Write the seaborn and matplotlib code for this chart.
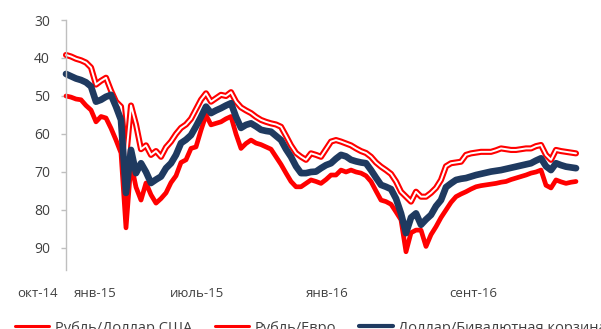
import numpy as np
import pandas as pd
import seaborn as sns
import matplotlib.pyplot as plt
import matplotlib.patheffects as pe

# Weekly observations, Oct 2014 - Sep 2016 (inverted scale: higher = weaker ruble)
usd_rub = [39.2, 39.6, 40.2, 40.6, 41.2, 42.5, 47.0, 46.0, 45.2, 48.6,
           51.5, 52.8, 66.5, 52.5, 57.5, 64.0, 63.0, 65.5, 64.5, 66.0,
           63.5, 62.0, 60.0, 58.4, 57.5, 56.0, 53.5, 51.0, 49.3, 51.5,
           50.6, 49.7, 50.0, 49.0, 51.5, 53.0, 53.8, 54.5, 55.5, 56.3,
           56.8, 57.2, 57.5, 58.1, 60.5, 63.0, 65.0, 66.0, 66.8, 65.1,
           65.5, 66.0, 64.0, 62.0, 61.6, 62.0, 62.5, 63.0, 63.8, 64.5,
           65.0, 66.0, 67.5, 68.6, 69.5, 70.5, 72.5, 75.2, 76.5, 77.8,
           75.2, 76.5, 76.5, 75.5, 74.2, 72.1, 68.5, 67.7, 67.5, 67.3,
           65.5, 65.1, 64.9, 64.7, 64.7, 64.7, 64.3, 63.8, 64.0, 64.2,
           64.2, 64.0, 63.8, 63.8, 63.2, 62.9, 65.5, 66.8, 64.2, 64.5,
           64.7, 64.9, 65.1]

eur_rub = [50.0, 50.3, 50.8, 51.0, 52.5, 53.7, 56.8, 55.4, 55.8, 58.5,
           61.6, 65.0, 84.7, 67.7, 74.0, 77.4, 72.9, 76.0, 78.2, 77.0,
           75.5, 72.8, 71.0, 67.5, 66.8, 63.8, 63.4, 59.0, 55.0, 57.6,
           57.2, 56.8, 56.0, 55.4, 60.0, 63.8, 62.5, 61.6, 62.4, 62.8,
           63.4, 64.0, 66.0, 68.0, 70.3, 72.5, 73.9, 73.9, 73.0, 72.1,
           72.5, 73.0, 72.0, 70.8, 70.8, 69.5, 70.0, 69.5, 70.0, 70.3,
           71.0, 72.5, 75.0, 77.4, 77.8, 78.5, 80.5, 82.6, 91.0, 86.0,
           85.3, 85.3, 89.6, 86.5, 84.4, 82.0, 80.0, 78.0, 76.5, 75.8,
           75.2, 74.5, 73.9, 73.6, 73.4, 73.2, 73.0, 72.7, 72.5, 72.0,
           71.6, 71.2, 70.8, 70.3, 70.0, 69.5, 73.5, 74.2, 72.1, 72.6,
           73.0, 72.7, 72.5]

basket = [44.2, 44.8, 45.4, 45.8, 46.4, 47.5, 51.5, 51.0, 50.2, 49.7,
          52.8, 56.3, 75.5, 64.2, 70.3, 67.7, 70.0, 72.9, 72.0, 71.2,
          69.0, 67.7, 65.5, 62.4, 61.5, 60.3, 58.0, 55.5, 52.8, 54.5,
          53.8, 53.2, 52.5, 51.9, 55.5, 58.4, 57.6, 57.2, 58.0, 58.9,
          59.2, 59.4, 60.5, 61.6, 64.0, 66.0, 68.5, 70.3, 70.3, 70.0,
          69.9, 69.0, 68.2, 67.7, 66.5, 65.5, 65.9, 66.8, 67.2, 67.5,
          67.7, 69.5, 71.5, 73.4, 73.9, 74.5, 77.0, 80.9, 86.1, 82.0,
          80.9, 83.9, 82.5, 81.3, 79.0, 77.4, 74.0, 73.0, 72.1, 71.8,
          71.6, 71.2, 70.8, 70.5, 70.2, 69.9, 69.7, 69.5, 69.2, 68.9,
          68.6, 68.3, 68.0, 67.7, 67.0, 66.4, 68.5, 69.5, 67.7, 68.2,
          68.6, 68.8, 69.0]

series_names = ["Рубль/Доллар США", "Рубль/Евро", "Доллар/Бивалютная корзина"]
tick_labels = ["окт-14", "янв-15", "июль-15", "янв-16", "сент-16"]
tick_pos = [-5.8, 5.8, 26.2, 52.2, 81.4]
y_ticks = [30, 40, 50, 60, 70, 80, 90]

t = np.arange(len(usd_rub))
df = pd.DataFrame({"t": np.tile(t, 3),
                   "value": usd_rub + eur_rub + basket,
                   "series": np.repeat(series_names, len(t))})

sns.set_theme(style="white")
plt.rcParams["font.family"] = ["Open Sans", "DejaVu Sans"]

RED = "#FF0000"
NAVY = "#1F3A60"
TXT = "#404040"

fig = plt.figure(figsize=(6.01, 3.29), dpi=100)
ax = fig.add_axes([20 / 601, 1 - 270 / 329, 570 / 601, 250 / 329])

# USD line: red outline with a white core
sns.lineplot(data=df[df.series == series_names[0]], x="t", y="value",
             color="white", linewidth=1.4, ax=ax, label=series_names[0],
             path_effects=[pe.Stroke(linewidth=4.4, foreground=RED), pe.Normal()])
sns.lineplot(data=df[df.series == series_names[1]], x="t", y="value",
             color=RED, linewidth=3.4, ax=ax, label=series_names[1])
sns.lineplot(data=df[df.series == series_names[2]], x="t", y="value",
             color=NAVY, linewidth=4.8, ax=ax, label=series_names[2])

ax.set_xlim(-9.2, 104.8)
ax.set_ylim(95.8, 30)
ax.set_yticks(y_ticks)
ax.set_xticks(tick_pos)
ax.set_xticklabels(tick_labels)
ax.set_xlabel("")
ax.set_ylabel("")

for s in ["top", "right", "bottom"]:
    ax.spines[s].set_visible(False)
ax.spines["left"].set_position(("data", 0))
ax.spines["left"].set_color("#BFBFBF")
ax.spines["left"].set_linewidth(1.0)

ax.tick_params(axis="y", which="major", left=True, length=3.5, width=1,
               color="#BFBFBF", pad=8, labelsize=10, labelcolor=TXT)
ax.tick_params(axis="x", length=0, pad=12, labelsize=9.5, labelcolor=TXT)

leg = ax.get_legend()
handles, labels = ax.get_legend_handles_labels()
leg.remove()
handles[0] = plt.Line2D([], [], color=RED, linewidth=2.2)
handles[1] = plt.Line2D([], [], color=RED, linewidth=2.2)
handles[2] = plt.Line2D([], [], color=NAVY, linewidth=3.0)
fig.legend(handles, labels, loc="center left", ncol=3,
           bbox_to_anchor=(15 / 601, 1.0 / 329),
           frameon=False, fontsize=10.5, handlelength=2.35, handletextpad=0.36,
           columnspacing=1.57, borderpad=0, borderaxespad=0, labelcolor=TXT)

fig.savefig("out.png", dpi=100)
